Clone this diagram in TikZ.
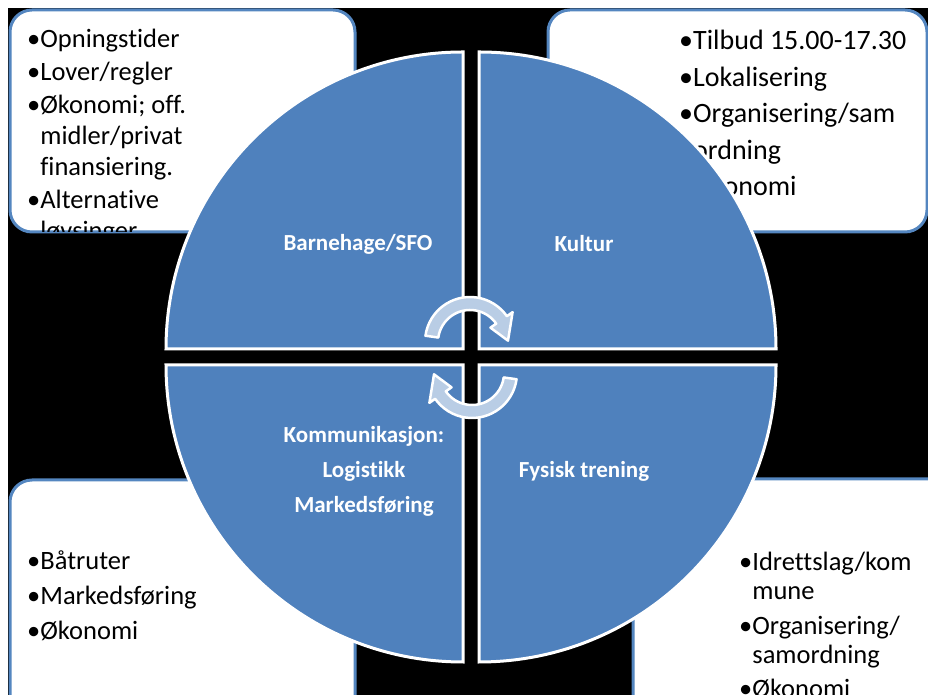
\documentclass[tikz,border=0pt]{standalone}
\usepackage{fontspec}
\setmainfont{Carlito}[RawFeature={-liga;-calt;-dlig}]
\usetikzlibrary{calc}
\definecolor{quadblue}{RGB}{79,129,189}
\definecolor{boxline}{RGB}{84,134,192}
\definecolor{arrowfill}{RGB}{185,205,229}
\tikzset{
  infobox/.style={draw=boxline,line width=3pt,fill=white,rounded corners=22pt},
  quadrant/.style={fill=quadblue,draw=white,line width=3pt},
  cyclearrow/.style={fill=arrowfill,draw=white,line width=2.5pt,line join=round},
  boxtext/.style={anchor=north west,inner sep=0pt,align=left},
  quadtext/.style={text=white,inner sep=0pt,align=center,font=\fontsize{23}{35}\selectfont\bfseries}
}
\newcommand{\ind}{\hphantom{•}}

\begin{document}
\begin{tikzpicture}[x=1pt,y=1pt]
          \useasboundingbox (0,0) rectangle (928,695);
          \clip (0,0) rectangle (928,695);
          \fill[white] (0,0) rectangle (928,695);
          \fill[black] (8,0) rectangle (928,687);
          % boxes
          \draw[infobox] (10,463) rectangle (355,685);
          \draw[infobox] (548,463) rectangle (927,685);
          \draw[infobox] (10,-30) rectangle (355,215);
          \draw[infobox] (633,-30) rectangle (960,216);
          \begin{scope}
            \clip[rounded corners=22pt] (10,463) rectangle (355,685);
            \node[boxtext,font=\fontsize{26.5}{31}\selectfont] (tl) at (27,666)
              {•Opningstider\\[2pt]•Lover/regler\\[2pt]•Økonomi; off.\\\ind midler/privat\\\ind finansiering.\\[2pt]•Alternative\\\ind løvsinger};
          \end{scope}
          \node[boxtext,font=\fontsize{28}{36.5}\selectfont] (tr) at (679,665)
            {•Tilbud 15.00-17.30\\•Lokalisering\\•Organisering/sam\\\ind ordning\\•Økonomi};
          \node[boxtext,font=\fontsize{26.5}{35}\selectfont] (bl) at (27,144)
            {•Båtruter\\•Markedsføring\\•Økonomi};
          \node[boxtext,font=\fontsize{26.5}{29}\selectfont] (br) at (739,143)
            {•Idrettslag/kom\\\ind mune\\[6pt]•Organisering/\\\ind samordning\\[5pt]•Økonomi};
          % circle in four parts
          \draw[quadrant] (463,346) -- ++(-297,0) arc[start angle=180,end angle=90,radius=297] -- cycle;
          \draw[quadrant] (479,346) -- ++(0,297) arc[start angle=90,end angle=0,radius=297] -- cycle;
          \draw[quadrant] (463,330) -- ++(0,-297) arc[start angle=270,end angle=180,radius=297] -- cycle;
          \draw[quadrant] (479,330) -- ++(297,0) arc[start angle=0,end angle=-90,radius=297] -- cycle;
          \node[quadtext] (barnehage) at (358,451) {Barnehage/SFO};
          \node[quadtext] (kultur) at (584,451) {Kultur};
          \node[quadtext] (kommunikasjon) at (364,224) {Kommunikasjon:\\Logistikk\\Markedsføring};
          \node[quadtext] (fysisk) at (584,224) {Fysisk trening};
          % turning arrows
          \coordinate (topturn) at (470,353);
          \coordinate (botturn) at (472,322);
          \draw[cyclearrow] ($(topturn)+(172:45)$) arc[start angle=172,end angle=35,radius=45]
            -- ($(topturn)+(35:52)$) -- ($(topturn)+(2:38)$) -- ($(topturn)+(35:25)$)
            -- ($(topturn)+(35:32)$) arc[start angle=35,end angle=172,radius=32] -- cycle;
          \draw[cyclearrow] ($(botturn)+(-8:45)$) arc[start angle=-8,end angle=-145,radius=45]
            -- ($(botturn)+(-145:52)$) -- ($(botturn)+(-178:38)$) -- ($(botturn)+(-145:25)$)
            -- ($(botturn)+(-145:32)$) arc[start angle=-145,end angle=-8,radius=32] -- cycle;
        \end{tikzpicture}
\end{document}
